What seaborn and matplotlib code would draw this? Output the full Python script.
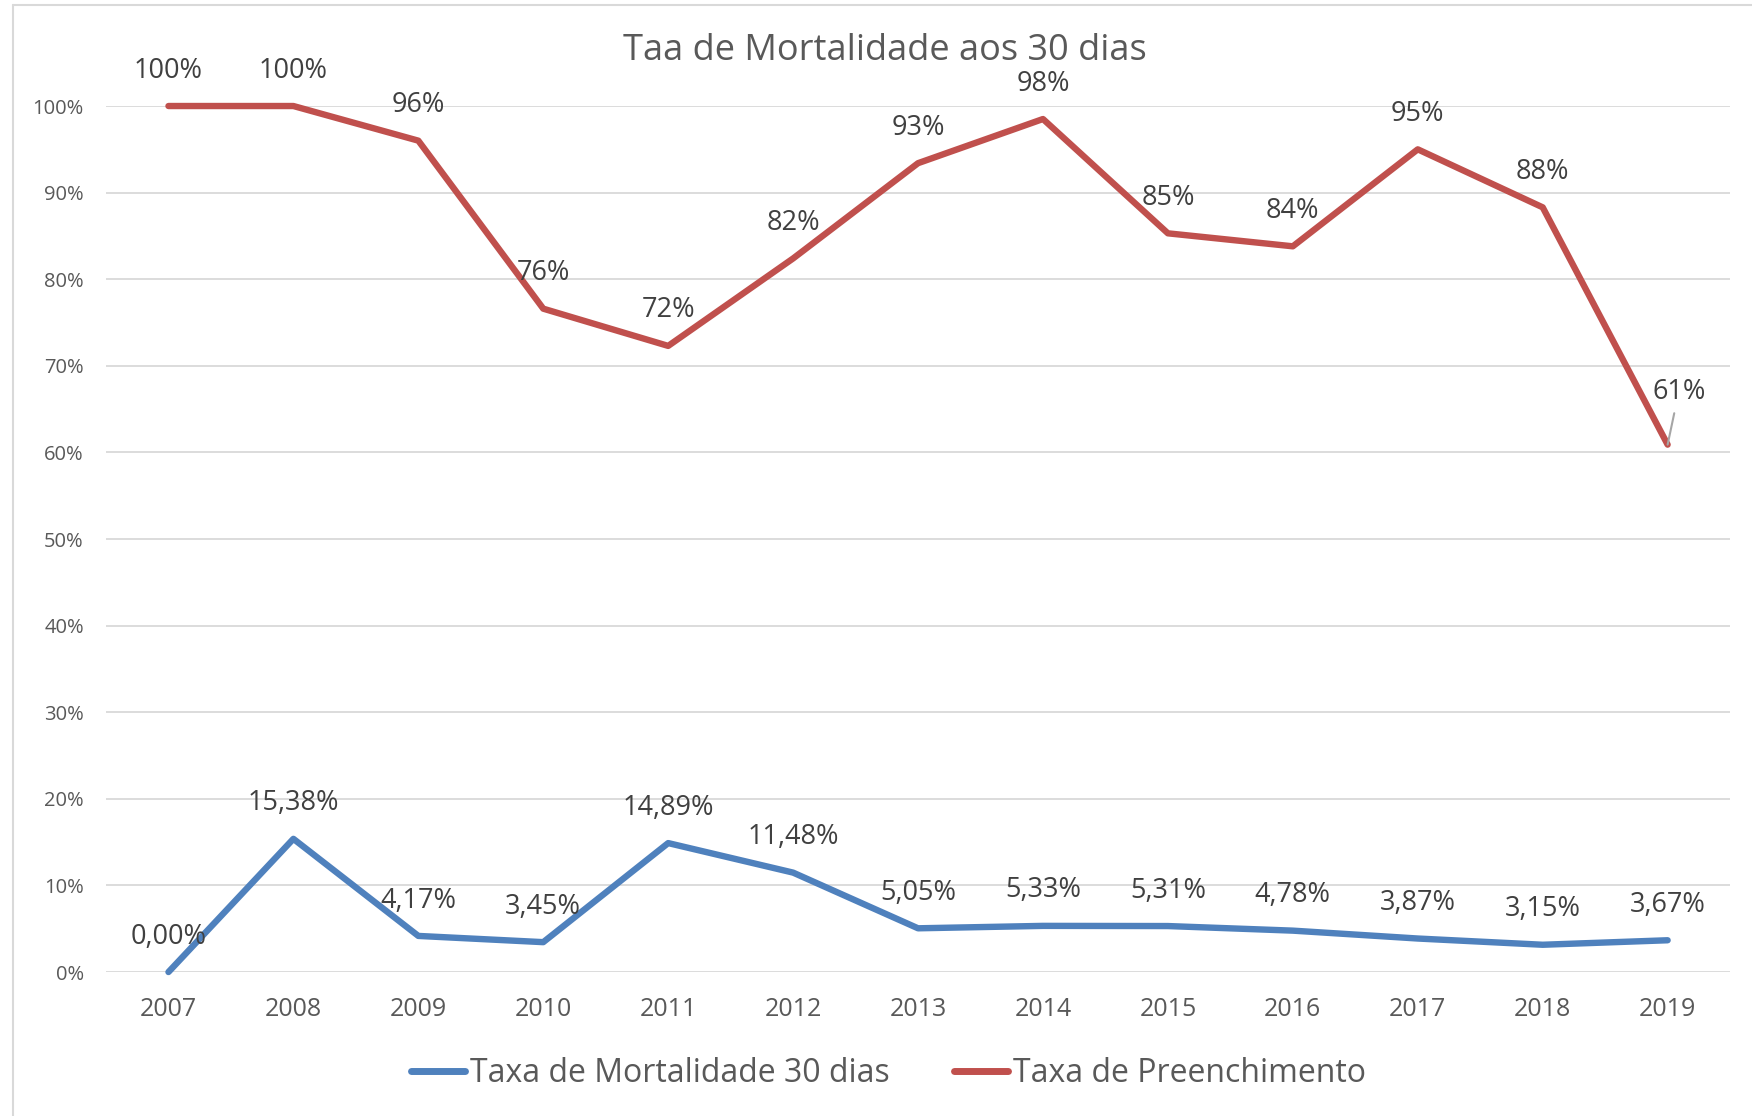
import numpy as np
import pandas as pd
import seaborn as sns
import matplotlib.pyplot as plt
from matplotlib.lines import Line2D
from matplotlib.ticker import FuncFormatter

# dados
anos = [2007, 2008, 2009, 2010, 2011, 2012, 2013, 2014, 2015, 2016, 2017, 2018, 2019]
mortalidade = [0.0, 15.38, 4.17, 3.45, 14.89, 11.48, 5.05, 5.33, 5.31, 4.78, 3.87, 3.15, 3.67]
preenchimento = [100, 100, 96, 76.6, 72.3, 82.4, 93.4, 98.5, 85.3, 83.8, 95.0, 88.3, 60.9]
rotulos_mort = ['0,00%', '15,38%', '4,17%', '3,45%', '14,89%', '11,48%', '5,05%',
                '5,33%', '5,31%', '4,78%', '3,87%', '3,15%', '3,67%']
rotulos_pree = ['100%', '100%', '96%', '76%', '72%', '82%', '93%',
                '98%', '85%', '84%', '95%', '88%', '61%']
series = ['Taxa de Mortalidade 30 dias', 'Taxa de Preenchimento']
cores = ['#4F81BD', '#C0504D']

dados = pd.DataFrame({
    'Ano': anos * 2,
    'Taxa': [v / 100 for v in mortalidade] + [v / 100 for v in preenchimento],
    'Serie': [series[0]] * len(anos) + [series[1]] * len(anos),
})

sns.set_style('white')
plt.rcParams['font.family'] = ['Open Sans', 'DejaVu Sans']

fig = plt.figure(figsize=(17.52, 11.16), dpi=100)
ax = fig.add_axes([0.0605, 0.129, 0.927, 0.776])

sns.lineplot(data=dados, x='Ano', y='Taxa', hue='Serie', palette=cores,
             linewidth=4.6, ax=ax, clip_on=False, solid_capstyle='round',
             solid_joinstyle='round', legend=False)

ax.set_xlim(2006.5, 2019.5)
ax.set_ylim(0, 1)
ax.set_yticks(np.arange(0, 1.01, 0.1))
ax.yaxis.set_major_formatter(FuncFormatter(lambda v, p: f'{v * 100:.0f}%'))
ax.set_xticks(anos)
ax.set_xticklabels([str(a) for a in anos])
ax.grid(axis='y', color='#D9D9D9', linewidth=1.3)
ax.grid(axis='x', visible=False)
ax.set_axisbelow(True)
sns.despine(ax=ax, left=True, bottom=True)
ax.tick_params(axis='y', length=0, pad=16, labelsize=14.5, labelcolor='#595959')
ax.tick_params(axis='x', length=0, pad=18, labelsize=18, labelcolor='#595959')
ax.set_xlabel('')
ax.set_ylabel('')

# rotulos de dados
for a, v, t in zip(anos, mortalidade, rotulos_mort):
    ax.annotate(t, (a, v / 100), xytext=(0, 25.5), textcoords='offset points',
                ha='center', va='center', fontsize=19.5, color='#404040')
for a, v, t in zip(anos, preenchimento, rotulos_pree):
    if a == 2019:
        ax.annotate(t, (a, v / 100), xytext=(8, 38), textcoords='offset points',
                    ha='center', va='center', fontsize=19.5, color='#404040',
                    arrowprops=dict(arrowstyle='-', color='#A6A6A6', lw=1.5,
                                    shrinkA=3, shrinkB=0))
    else:
        ax.annotate(t, (a, v / 100), xytext=(0, 25.5), textcoords='offset points',
                    ha='center', va='center', fontsize=19.5, color='#404040',
                    annotation_clip=False)

fig.text(0.505, 0.954, 'Taa de Mortalidade aos 30 dias', ha='center', va='center',
         fontsize=26, color='#595959')

handles = [Line2D([], [], color=c, linewidth=5, solid_capstyle='round') for c in cores]
fig.legend(handles, series, loc='center', bbox_to_anchor=(0.507, 0.038), ncol=2,
           frameon=False, fontsize=23, labelcolor='#595959', handlelength=1.7,
           handletextpad=0.15, columnspacing=2.0)

# moldura do grafico
fig.add_artist(Line2D([13 / 1752, 13 / 1752], [0, 1 - 5 / 1116], color='#D9D9D9', lw=1.5))
fig.add_artist(Line2D([13 / 1752, 1], [1 - 5 / 1116, 1 - 5 / 1116], color='#D9D9D9', lw=1.5))

fig.savefig('out.png', dpi=100)
